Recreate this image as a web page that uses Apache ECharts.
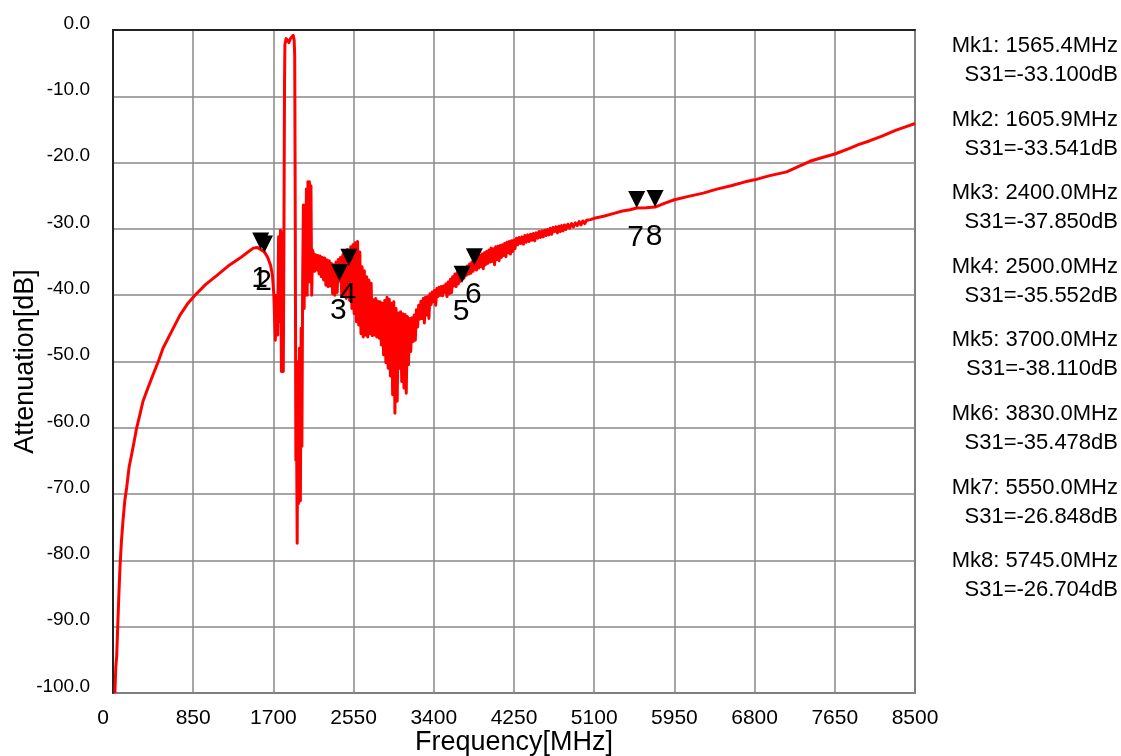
<!DOCTYPE html>
<html>
<head>
<meta charset="utf-8">
<script src="https://cdn.jsdelivr.net/npm/echarts@6/dist/echarts.min.js"></script>
<style>
html,body{margin:0;padding:0;background:#fff;}
#chart{width:1121px;height:756px;}
</style>
</head>
<body>
<div id="chart"></div>
<script>
// ---- data (MHz, dB) ----
const lowSkirt = [[20,-100],[30,-96],[39,-94.5],[50,-90],[60,-86],[74,-81],[90,-77],[106,-74],[125,-71],[145,-69],[170,-66],[198,-64],[225,-62],[251,-60],[285,-58],[318,-56],[370,-54],[424,-52],[480,-50],[530,-48],[620,-45.5],[710,-43],[790,-41.3],[869,-40],[980,-38.4],[1102,-37],[1220,-35.6],[1346,-34.4],[1420,-33.6],[1487,-32.9],[1530,-32.8],[1565,-33.1],[1606,-33.5],[1640,-34.3],[1670,-35.5],[1690,-37]];

const passRegion = [[1705,-40],[1720,-46.8],[1735,-40],[1745,-46],[1755,-31.2],[1765,-44],[1775,-30.2],[1785,-51.5],[1795,-30.5],[1805,-51.5],[1812,-30],[1818,-8],[1822,-2.2],[1835,-1.3],[1850,-1.6],[1865,-1.9],[1880,-1.3],[1895,-1.0],[1910,-0.8],[1920,-1.5],[1926,-4],[1932,-30],[1938,-64.9],[1944,-56],[1952,-77.4],[1960,-50],[1968,-71.4],[1976,-48],[1986,-71],[1994,-45],[2002,-62.8],[2010,-38],[2018,-26.4],[2026,-42],[2034,-26.4],[2042,-40],[2050,-24],[2058,-40],[2066,-22.9],[2074,-38],[2082,-22.9],[2090,-38],[2098,-23.5],[2106,-40],[2114,-33.2]];

const noisyBand = [[2124,-33.7],[2136,-36.4],[2148,-33.9],[2160,-36.2],[2172,-34.0],[2184,-36.8],[2196,-34.1],[2208,-37.2],[2220,-34.3],[2232,-37.7],[2244,-34.4],[2256,-38.5],[2268,-34.7],[2280,-38.7],[2292,-34.8],[2304,-38.6],[2316,-35.2],[2328,-39.8],[2340,-35.4],[2352,-40.0],[2364,-35.0],[2376,-39.6],[2388,-34.6],[2400,-37.85],[2412,-34.3],[2424,-40.0],[2436,-33.9],[2448,-40.2],[2460,-33.5],[2472,-40.5],[2484,-33.1],[2500,-35.55],[2508,-40.8],[2520,-32.7],[2532,-42.0],[2544,-32.4],[2556,-42.8],[2568,-32.1],[2580,-44.0],[2592,-31.9],[2604,-44.5],[2616,-33.5],[2628,-45.8],[2640,-35.7],[2652,-46.3],[2664,-36.3],[2676,-46.0],[2688,-37.2],[2700,-46.3],[2712,-37.7],[2724,-45.8],[2736,-38.2],[2748,-46.1],[2760,-40.7],[2772,-46.0],[2784,-40.5],[2796,-46.3],[2808,-40.9],[2820,-46.5],[2832,-41.0],[2844,-47.5],[2856,-41.2],[2868,-49.0],[2880,-40.8],[2892,-50.2],[2904,-40.3],[2916,-51.0],[2928,-40.6],[2940,-52.2],[2952,-41.2],[2964,-55.0],[2976,-41.0],[2988,-57.8],[3000,-42.0],[3012,-56.0],[3024,-42.7],[3036,-51.0],[3048,-42.5],[3060,-53.0],[3072,-42.8],[3084,-54.0],[3096,-42.9],[3108,-54.8],[3120,-43.2],[3132,-50.5],[3144,-43.5],[3156,-48.5],[3168,-43.4],[3180,-47.0],[3192,-43.0],[3204,-46.8],[3216,-42.2],[3228,-44.8],[3240,-41.5],[3252,-43.6],[3264,-40.9],[3276,-43.5],[3288,-40.5],[3300,-44.2],[3312,-40.3],[3324,-43.0],[3336,-40.2],[3348,-43.5],[3360,-39.8],[3372,-41.4],[3384,-39.5],[3396,-41.0],[3408,-39.3],[3420,-41.5],[3432,-39.0],[3444,-40.2],[3456,-38.8],[3468,-40.0],[3480,-38.7],[3492,-40.1],[3504,-38.6],[3516,-39.6],[3528,-38.3],[3540,-40.2],[3552,-38.0],[3564,-39.8],[3576,-37.6],[3588,-39.6],[3600,-37.2],[3612,-38.6],[3624,-36.8],[3636,-38.7],[3648,-36.6],[3660,-38.3],[3672,-36.4],[3684,-37.9],[3700,-38.11],[3708,-36.2],[3720,-37.4],[3732,-36.0],[3744,-37.0],[3756,-35.6],[3768,-36.8],[3780,-35.3],[3792,-36.7],[3804,-35.0],[3816,-36.4],[3830,-35.48],[3840,-34.6],[3852,-36.2],[3864,-34.2],[3876,-35.9],[3888,-34.0],[3900,-35.7],[3912,-33.8],[3924,-36.0],[3936,-33.6],[3948,-35.4],[3960,-33.4],[3972,-35.2],[3984,-33.2],[3996,-35.0],[4008,-32.9],[4020,-34.9],[4032,-33.0],[4044,-35.4],[4056,-32.7],[4068,-34.6],[4080,-32.6],[4092,-34.8],[4104,-32.5],[4116,-34.3],[4128,-32.4],[4140,-34.0],[4152,-32.2],[4164,-34.2],[4176,-32.0],[4188,-33.6],[4200,-31.9],[4212,-33.8],[4224,-31.8],[4236,-33.4],[4248,-31.7],[4260,-33.0]];

const rippleBand = [[4275,-31.4],[4290,-32.4],[4305,-31.3],[4320,-32.2],[4335,-31.2],[4350,-32.3],[4365,-31.0],[4380,-32.0],[4395,-30.9],[4410,-31.9],[4425,-30.8],[4440,-31.7],[4455,-30.7],[4470,-31.8],[4485,-30.6],[4500,-31.4],[4515,-30.4],[4530,-31.3],[4545,-30.3],[4560,-31.2],[4575,-30.2],[4590,-31.0],[4605,-30.1],[4620,-30.9],[4635,-29.9],[4650,-30.8],[4665,-29.8],[4680,-30.4],[4695,-29.7],[4710,-30.6],[4725,-29.6],[4740,-30.4],[4755,-29.5],[4770,-30.3],[4785,-29.4],[4800,-30.1],[4820,-29.3],[4840,-29.9],[4860,-29.2],[4880,-29.7],[4900,-29.1],[4920,-29.5],[4940,-28.9],[4960,-29.4],[4980,-28.8],[5000,-29.2],[5020,-28.7],[5040,-29.0],[5060,-28.6],[5080,-28.8],[5100,-28.4]];

const highSkirt = [[5200,-28.1],[5300,-27.7],[5400,-27.3],[5480,-27.1],[5550,-26.85],[5650,-26.8],[5745,-26.70],[5850,-26.1],[5950,-25.6],[6100,-25.1],[6255,-24.6],[6400,-24.0],[6550,-23.5],[6700,-22.9],[6800,-22.6],[6950,-22.0],[7140,-21.4],[7250,-20.7],[7387,-19.8],[7500,-19.3],[7650,-18.7],[7800,-17.9],[7900,-17.3],[8023,-16.7],[8150,-16.0],[8300,-15.1],[8400,-14.6],[8500,-14.1]];

const markerFreq = [1565.4, 1605.9, 2400.0, 2500.0, 3700.0, 3830.0, 5550.0, 5745.0];
const markerVal  = [-33.100, -33.541, -37.850, -35.552, -38.110, -35.478, -26.848, -26.704];

const xName = 'Frequency[MHz]';
const yName = 'Attenuation[dB]';

// ---- chart ----
const curve = [].concat(lowSkirt, passRegion, noisyBand, rippleBand, highSkirt);
const chart = echarts.init(document.getElementById('chart'), null, {renderer: 'canvas'});
const FONT = 'Arial, "Liberation Sans", sans-serif';

const panelTexts = [];
markerFreq.forEach((f, i) => {
  const y0 = 45 + 73.6 * i;
  panelTexts.push({type: 'text', right: 3, top: y0 - 10, style: {text: 'Mk' + (i + 1) + ': ' + f.toFixed(1) + 'MHz', font: '22px ' + FONT, fill: '#000'}});
  panelTexts.push({type: 'text', right: 3, top: y0 + 19, style: {text: 'S31=' + markerVal[i].toFixed(3) + 'dB', font: '22px ' + FONT, fill: '#000'}});
});

chart.setOption({
  animation: false,
  backgroundColor: '#fff',
  grid: {left: 113, right: 206, top: 30, bottom: 63, show: true, borderColor: '#333', borderWidth: 1.5,
    containLabel: false, outerBoundsMode: 'none'},
  xAxis: {
    type: 'value', min: 0, max: 8500, interval: 850,
    name: xName, nameLocation: 'middle', nameGap: 36, nameMoveOverlap: false,
    nameTextStyle: {fontSize: 27, color: '#000', fontFamily: FONT},
    axisLine: {show: true, lineStyle: {color: '#222', width: 2}},
    axisTick: {show: false},
    splitLine: {show: true, lineStyle: {color: '#888', width: 1.5}},
    axisLabel: {fontSize: 21, color: '#000', fontFamily: FONT, margin: 15,
      formatter: v => v === 0 ? '{z|0}' : String(v),
      rich: {z: {fontSize: 21, color: '#000', fontFamily: FONT, padding: [0, 20, 0, 0]}}}
  },
  yAxis: {
    type: 'value', min: -100, max: 0, interval: 10,
    name: yName, nameLocation: 'middle', nameGap: 74, nameRotate: 90, nameMoveOverlap: false,
    nameTextStyle: {fontSize: 27, color: '#000', fontFamily: FONT},
    axisLine: {show: true, lineStyle: {color: '#222', width: 2}},
    axisTick: {show: false},
    splitLine: {show: true, lineStyle: {color: '#888', width: 1.5}},
    axisLabel: {fontSize: 19, color: '#000', fontFamily: FONT, margin: 23,
      formatter: v => v.toFixed(1), verticalAlign: 'bottom', lineHeight: 13}
  },
  graphic: panelTexts,
  series: [
    {
      type: 'line', data: curve, showSymbol: false, symbol: 'none',
      lineStyle: {color: '#ff0000', width: 3, join: 'round'},
      z: 2
    },
    {
      type: 'scatter',
      data: markerFreq.map((f, i) => [f, markerVal[i]]),
      symbol: 'triangle', symbolRotate: 180, symbolSize: [17, 17], symbolOffset: [0, -8.5],
      itemStyle: {color: '#000', opacity: 1},
      label: {show: true, position: 'inside', offset: [-1, 38], fontSize: 30, color: '#000', fontFamily: FONT,
        formatter: p => String(p.dataIndex + 1)},
      z: 3
    }
  ]
});
</script>
</body>
</html>
